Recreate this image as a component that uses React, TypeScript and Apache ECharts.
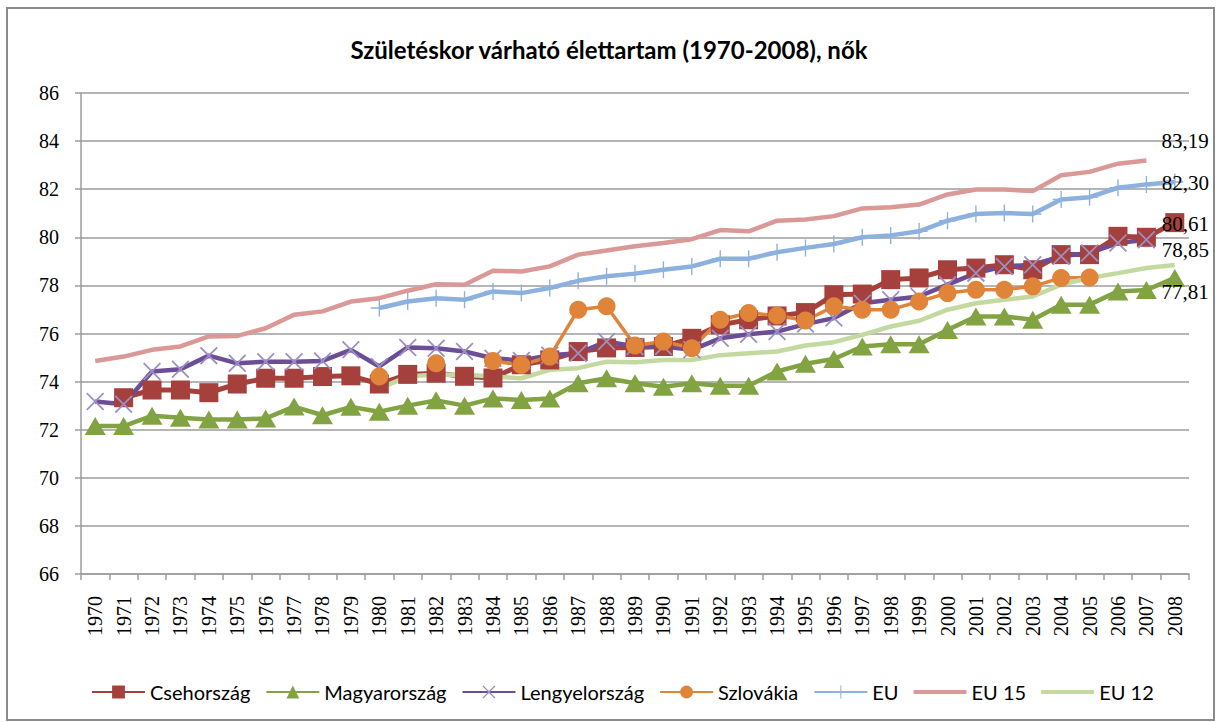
import { useEffect, useRef } from "react";
import * as echarts from "echarts";

const years = [
  "1970", "1971", "1972", "1973", "1974", "1975", "1976", "1977", "1978", "1979",
  "1980", "1981", "1982", "1983", "1984", "1985", "1986", "1987", "1988", "1989",
  "1990", "1991", "1992", "1993", "1994", "1995", "1996", "1997", "1998", "1999",
  "2000", "2001", "2002", "2003", "2004", "2005", "2006", "2007", "2008",
];

const csehorszag = [
  null, 73.33, 73.65, 73.65, 73.54, 73.9, 74.14, 74.14, 74.21, 74.24,
  73.9, 74.3, 74.35, 74.22, 74.15, 74.7, 74.9, 75.25, 75.4, 75.42,
  75.46, 75.8, 76.36, 76.57, 76.73, 76.87, 77.61, 77.64, 78.24, 78.31,
  78.65, 78.72, 78.86, 78.65, 79.28, 79.28, 80.04, 80.0, 80.61,
];

const magyarorszag = [
  72.15, 72.15, 72.58, 72.5, 72.42, 72.42, 72.47, 72.96, 72.6, 72.95,
  72.75, 73.0, 73.22, 73.0, 73.3, 73.24, 73.3, 73.93, 74.14, 73.93,
  73.79, 73.93, 73.83, 73.83, 74.42, 74.74, 74.94, 75.46, 75.55, 75.55,
  76.15, 76.71, 76.71, 76.57, 77.2, 77.2, 77.75, 77.81, 78.31,
];

const lengyelorszag = [
  73.17, 73.06, 74.42, 74.51, 75.08, 74.76, 74.83, 74.83, 74.86, 75.32,
  74.63, 75.42, 75.39, 75.25, 74.97, 74.88, 75.1, 75.18, 75.67, 75.46,
  75.46, 75.32, 75.8, 75.97, 76.08, 76.39, 76.64, 77.26, 77.4, 77.54,
  78.03, 78.51, 78.79, 78.86, 79.21, 79.35, 79.76, 79.9, null,
];

const szlovakia = [
  null, null, null, null, null, null, null, null, null, null,
  74.21, null, 74.76, null, 74.86, 74.69, 75.04, 76.99, 77.13, 75.5,
  75.67, 75.39, 76.57, 76.85, 76.75, 76.54, 77.13, 76.99, 76.99, 77.33,
  77.68, 77.82, 77.82, 77.96, 78.31, 78.33, null, null, null,
];

const eu = [
  null, null, null, null, null, null, null, null, null, null,
  77.06, 77.33, 77.47, 77.4, 77.75, 77.68, 77.89, 78.19, 78.38, 78.49,
  78.65, 78.79, 79.11, 79.11, 79.38, 79.56, 79.72, 80.0, 80.08, 80.25,
  80.69, 80.97, 81.01, 80.97, 81.57, 81.67, 82.06, 82.2, 82.3,
];

const eu15 = [
  74.86, 75.04, 75.32, 75.46, 75.88, 75.9, 76.22, 76.78, 76.92, 77.33,
  77.47, 77.78, 78.05, 78.03, 78.61, 78.58, 78.79, 79.28, 79.45, 79.63,
  79.76, 79.92, 80.3, 80.25, 80.69, 80.74, 80.88, 81.2, 81.25, 81.36,
  81.78, 81.99, 81.99, 81.92, 82.58, 82.72, 83.06, 83.19, null,
];

const eu12 = [
  null, null, null, null, null, null, null, null, null, null,
  73.72, 74.21, 74.3, 74.28, 74.21, 74.14, 74.49, 74.56, 74.83, 74.8,
  74.9, 74.9, 75.1, 75.18, 75.25, 75.5, 75.64, 75.94, 76.29, 76.53,
  76.99, 77.26, 77.4, 77.54, 78.03, 78.31, 78.51, 78.72, 78.85,
];

const seriesNames = ["Csehország", "Magyarország", "Lengyelország", "Szlovákia", "EU", "EU 15", "EU 12"];

const yTicks = { min: 66, max: 86, interval: 2 };

const SERIF = "'Liberation Serif', 'DejaVu Serif', serif";
const SANS = "Lato, 'Open Sans', sans-serif";

const fmt = (p: any) => {
  const v = typeof p.value === "number" ? p.value : Number(p.value);
  return v.toFixed(2).replace(".", ",");
};

function labelled(arr: (number | null)[], idx: number, offset: number[], hidden: boolean) {
  return arr.map((v, i) => {
    if (i !== idx) return v;
    const item: any = {
      value: v,
      label: {
        show: true,
        position: "inside",
        align: "left",
        verticalAlign: "middle",
        offset,
        color: "#000",
        textBorderWidth: 0,
        fontFamily: SERIF,
        fontSize: 21,
        formatter: fmt,
      },
    };
    if (hidden) {
      item.symbol = "circle";
      item.symbolSize = 2;
      item.itemStyle = { color: "rgba(0,0,0,0)" };
    }
    return item;
  });
}

const X_PATH = "path://M0,1.4L1.4,0L10,8.6L18.6,0L20,1.4L11.4,10L20,18.6L18.6,20L10,11.4L1.4,20L0,18.6L8.6,10Z";
const PLUS_PATH = "path://M9.2,0h1.6v9.2h9.2v1.6h-9.2v9.2h-1.6v-9.2h-9.2v-1.6h9.2z";
const LINE_ICON = "path://M0,0H53V4H0Z";

export default function App() {
  const ref = useRef<HTMLDivElement>(null);

  useEffect(() => {
    if (!ref.current) return;
    const chart = echarts.init(ref.current, null, { renderer: "svg" });
    const gridColor = "#9d9d9d";
    chart.setOption({
      animation: false,
      backgroundColor: "#ffffff",
      title: {
        text: "Születéskor várható élettartam (1970-2008), nők",
        left: "center",
        top: 32,
        textStyle: { fontFamily: SANS, fontSize: 24, fontWeight: "bold", color: "#000" },
      },
      graphic: [
        {
          type: "rect",
          shape: { x: 7, y: 8, width: 1207, height: 712 },
          style: { fill: "none", stroke: "#8a8a8a", lineWidth: 2 },
          silent: true,
        },
      ],
      legend: {
        left: 86,
        top: 677,
        itemWidth: 53,
        itemHeight: 16,
        itemGap: 15,
        data: [
          seriesNames[0],
          seriesNames[1],
          seriesNames[2],
          seriesNames[3],
          seriesNames[4],
          { name: seriesNames[5], icon: LINE_ICON },
          { name: seriesNames[6], icon: LINE_ICON },
        ],
        textStyle: { fontFamily: SANS, fontSize: 20, color: "#000" },
      },
      grid: { left: 81, right: 29, top: 93, bottom: 148 },
      xAxis: {
        type: "category",
        data: years,
        boundaryGap: true,
        axisLine: { lineStyle: { color: gridColor, width: 1.5 } },
        axisTick: { show: true, length: 6, lineStyle: { color: gridColor, width: 1.5 } },
        axisLabel: {
          interval: 0,
          rotate: 90,
          margin: 22,
          fontFamily: SERIF,
          fontSize: 20,
          color: "#000",
        },
      },
      yAxis: {
        type: "value",
        min: yTicks.min,
        max: yTicks.max,
        interval: yTicks.interval,
        axisLine: { show: true, lineStyle: { color: gridColor, width: 1.5 } },
        axisTick: { show: true, length: 6, lineStyle: { color: gridColor, width: 1.5 } },
        splitLine: { lineStyle: { color: gridColor, width: 1.5 } },
        axisLabel: { margin: 22, fontFamily: SERIF, fontSize: 20, color: "#000" },
      },
      series: [
        {
          name: seriesNames[0],
          type: "line",
          data: labelled(csehorszag, 38, [-13, 1], false),
          symbol: "rect",
          symbolSize: 19,
          lineStyle: { color: "#A6403C", width: 5 },
          itemStyle: { color: "#A6403C" },
          connectNulls: false,
        },
        {
          name: seriesNames[1],
          type: "line",
          data: labelled(magyarorszag, 37, [15, 2], false),
          symbol: "triangle",
          symbolSize: [21, 18],
          lineStyle: { color: "#82A342", width: 4.5 },
          itemStyle: { color: "#82A342" },
        },
        {
          name: seriesNames[2],
          type: "line",
          data: lengyelorszag,
          symbol: X_PATH,
          symbolSize: 18,
          lineStyle: { color: "#6B4E96", width: 4.5 },
          itemStyle: { color: "#9D8EC6" },
        },
        {
          name: seriesNames[3],
          type: "line",
          data: szlovakia,
          symbol: "circle",
          symbolSize: 18,
          lineStyle: { color: "#E0843A", width: 3.5 },
          itemStyle: { color: "#E0843A" },
          connectNulls: false,
        },
        {
          name: seriesNames[4],
          type: "line",
          data: labelled(eu, 38, [-13, 1], false),
          symbol: PLUS_PATH,
          symbolSize: 17,
          lineStyle: { color: "#8DB1DE", width: 4.5 },
          itemStyle: { color: "#8DB1DE" },
        },
        {
          name: seriesNames[5],
          type: "line",
          data: labelled(eu15, 37, [15, -20], true),
          symbol: "none",
          lineStyle: { color: "#DA9896", width: 4.5 },
          itemStyle: { color: "#DA9896" },
        },
        {
          name: seriesNames[6],
          type: "line",
          data: labelled(eu12, 38, [-13, -15], true),
          symbol: "none",
          lineStyle: { color: "#C3D9A0", width: 4.5 },
          itemStyle: { color: "#C3D9A0" },
        },
      ],
    });
    return () => chart.dispose();
  }, []);

  return (
    <div
      ref={ref}
      style={{ position: "fixed", left: 0, top: 0, width: 1218, height: 722, background: "#fff" }}
    />
  );
}
